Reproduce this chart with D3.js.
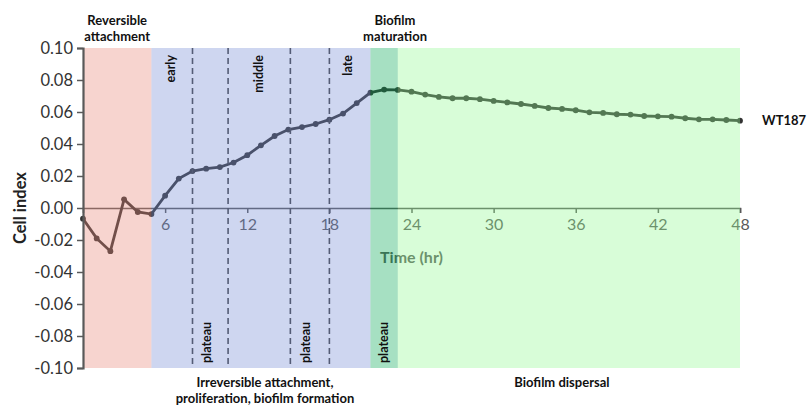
<!DOCTYPE html>
<html lang='en'>
	<head>
		<meta charset='utf-8'>
		<title>Cell index WT187</title>
		<script type='text/javascript' src='https://cdn.jsdelivr.net/npm/d3@7/dist/d3.min.js'></script>
		<style>
			body { margin: 0; background: #fff; }
			text { font-family: Lato, 'Open Sans', sans-serif; }
		</style>
	</head>
	<body>
		<svg id='svg' width='810' height='405'></svg>
		<script type='text/javascript'>
		{
			// data
			var hours = [0,1,2,3,4,5,6,7,8,9,10,11,12,13,14,15,16,17,18,19,20,21,22,23,24,
				25,26,27,28,29,30,31,32,33,34,35,36,37,38,39,40,41,42,43,44,45,46,47,48]
			var cellIndex = [-0.0067,-0.019,-0.027,0.0054,-0.0025,-0.0038,0.0077,0.0184,0.0231,0.0246,0.0256,
				0.0284,0.033,0.0392,0.045,0.049,0.0506,0.0525,0.0552,0.059,0.0656,0.0721,0.074,0.0738,0.0727,
				0.0709,0.0694,0.0686,0.0686,0.068,0.0669,0.066,0.065,0.0638,0.0625,0.0619,0.0611,0.0598,0.0594,
				0.0586,0.0584,0.0575,0.0573,0.0571,0.0561,0.0554,0.0554,0.055,0.0546]
			var xTicks = [6,12,18,24,30,36,42,48]
			var yTicks = [-0.1,-0.08,-0.06,-0.04,-0.02,0,0.02,0.04,0.06,0.08,0.1]

			var phaseStart = [0,5,21,23]
			var phaseEnd = [5,21,23,48]
			var dividerHours = [8,10.6,15.15,18]
			var stageNames = ['early','middle','late']
			var stageHours = [6.72,13.15,19.65]
			var plateauHours = [9.35,16.58,22.28]
			var seriesName = 'WT187'

			var svg = d3.select('#svg')
			var x = d3.scaleLinear().domain([0,48]).range([83,740])
			var y = d3.scaleLinear().domain([-0.1,0.1]).range([368,48])
			var phaseColors = ['#e88476','#738ad4','#00a651','#90fa90']
			var axisGrey = '#595959'

			// x axis through zero
			var xAxis = svg.append('g').attr('transform', 'translate(0,'+y(0)+')')
				.call(d3.axisBottom(x).tickValues(xTicks).tickSize(5).tickPadding(6).tickFormat(d3.format('d')))
			xAxis.select('.domain').attr('stroke', axisGrey).attr('stroke-width', 1.6)
			xAxis.selectAll('.tick line').attr('stroke', axisGrey).attr('stroke-width', 1.5)
			xAxis.selectAll('.tick text').attr('font-size', 16).attr('fill', axisGrey)
				.style('font-family', 'Lato, sans-serif')

			svg.append('text').attr('x', x(24)).attr('y', 263).attr('text-anchor', 'middle')
				.attr('font-size', 16).attr('font-weight', 'bold').attr('fill', axisGrey).text('Time (hr)')

			// the series
			var pts = hours.map((h,i) => [h, cellIndex[i]])
			svg.append('path').datum(pts)
				.attr('d', d3.line().x(d => x(d[0])).y(d => y(d[1])))
				.attr('fill', 'none').attr('stroke', '#333').attr('stroke-width', 2.8)
			svg.selectAll('.pt').data(pts).enter().append('circle').attr('class', 'pt')
				.attr('cx', d => x(d[0])).attr('cy', d => y(d[1])).attr('r', 2.9).attr('fill', '#333')

			// dashed dividers
			svg.selectAll('.div').data(dividerHours).enter().append('line').attr('class', 'div')
				.attr('x1', d => x(d)).attr('x2', d => x(d)).attr('y1', y(0.1)).attr('y2', y(-0.1))
				.attr('stroke', '#444').attr('stroke-width', 1.6).attr('stroke-dasharray', '6,4')

			// translucent phase bands on top
			svg.selectAll('.band').data(phaseStart).enter().append('rect').attr('class', 'band')
				.attr('x', (d,i) => x(d)).attr('width', (d,i) => x(phaseEnd[i]) - x(d))
				.attr('y', y(0.1)).attr('height', y(-0.1) - y(0.1))
				.attr('fill', (d,i) => phaseColors[i]).attr('opacity', 0.35)

			// y axis
			var yAxis = svg.append('g').attr('transform', 'translate('+x(0)+',0)')
				.call(d3.axisLeft(y).tickValues(yTicks).tickSize(6).tickPadding(4).tickFormat(d => d.toFixed(2)))
			yAxis.select('.domain').attr('stroke', axisGrey).attr('stroke-width', 2.2)
			yAxis.selectAll('.tick line').attr('stroke', axisGrey).attr('stroke-width', 1.5)
			yAxis.selectAll('.tick text').attr('font-size', 16.5).attr('fill', '#333')
				.style('font-family', 'Lato, sans-serif')

			svg.append('text').attr('transform', 'translate(26,'+y(0)+') rotate(-90)')
				.attr('text-anchor', 'middle').attr('font-size', 16.5).attr('font-weight', 'bold')
				.attr('fill', '#222').text('Cell index')

			// stage labels
			svg.selectAll('.stage').data(stageNames).enter().append('text').attr('class', 'stage')
				.attr('transform', (d,i) => 'translate('+x(stageHours[i])+','+(y(0.1)+7)+') rotate(-90)')
				.attr('text-anchor', 'end').attr('font-size', 12.5).attr('font-weight', 'bold').attr('fill', '#111')
				.text(d => d)
			svg.selectAll('.plateau').data(plateauHours).enter().append('text').attr('class', 'plateau')
				.attr('transform', d => 'translate('+x(d)+','+(y(-0.1)-5)+') rotate(-90)')
				.attr('text-anchor', 'start').attr('font-size', 12.5).attr('font-weight', 'bold').attr('fill', '#111')
				.text('plateau')

			// phase captions
			function caption(cx, cy, lines)  {
				var t = svg.append('text').attr('text-anchor', 'middle').attr('font-size', 13)
					.attr('font-weight', 'bold').attr('fill', '#111')
				lines.forEach((s,i) => t.append('tspan').attr('x', cx).attr('y', cy + i*15.5).text(s))
			}
			caption((x(0)+x(5))/2, 25, ['Reversible', 'attachment'])
			caption(395, 25, ['Biofilm', 'maturation'])
			caption(265, 387, ['Irreversible attachment,', 'proliferation, biofilm formation'])
			caption((x(23)+x(48))/2 - 7, 387, ['Biofilm dispersal'])

			svg.append('text').attr('x', 762).attr('y', y(cellIndex[cellIndex.length-1]) + 4)
				.attr('font-size', 13).attr('font-weight', 'bold').attr('fill', '#111').text(seriesName)
		}
		</script>
	</body>
</html>
